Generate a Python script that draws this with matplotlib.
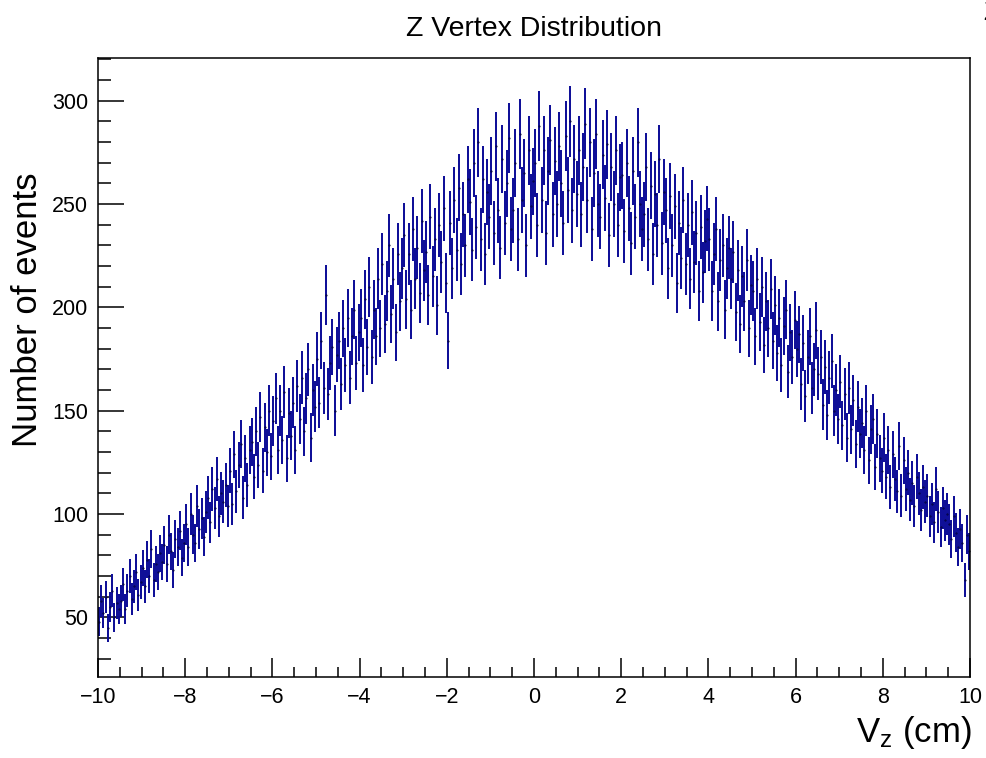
import numpy as np
import matplotlib
matplotlib.use("Agg")
import matplotlib.pyplot as plt
from matplotlib.ticker import MultipleLocator

plt.rcParams["font.family"] = ["Liberation Sans", "DejaVu Sans"]
plt.rcParams["mathtext.fontset"] = "custom"
plt.rcParams["mathtext.rm"] = "Liberation Sans"
plt.rcParams["mathtext.it"] = "Liberation Sans"

# histogram range / binning (400 bins from -10 to 10 cm)
x_min, x_max, n_bins = -10.0, 10.0, 400

# bin contents, 10 bins (0.5 cm) per row
counts = [
    48, 58, 52, 60, 45, 55, 63, 50, 57, 54,
    58, 66, 54, 63, 70, 59, 65, 72, 61, 67,
    74, 65, 78, 70, 83, 68, 76, 72, 81, 77,
    85, 76, 90, 82, 73, 88, 84, 92, 79, 86,
    95, 84, 100, 90, 86, 104, 93, 98, 89, 101,
    108, 96, 112, 103, 117, 99, 110, 106, 114, 104,
    121, 105, 129, 111, 124, 134, 108, 127, 114, 131,
    135, 118, 140, 124, 147, 121, 142, 130, 150, 128,
    145, 156, 131, 150, 136, 159, 127, 149, 138, 154,
    131, 162, 146, 166, 140, 156, 170, 137, 160, 152,
    175, 154, 184, 161, 206, 158, 173, 181, 150, 177,
    184, 163, 190, 172, 195, 166, 186, 199, 173, 188,
    195, 172, 204, 181, 210, 176, 199, 186, 214, 190,
    221, 192, 208, 230, 197, 214, 188, 226, 203, 219,
    235, 204, 226, 199, 238, 214, 229, 207, 242, 218,
    227, 206, 244, 215, 233, 201, 240, 222, 248, 212,
    184, 241, 219, 252, 228, 258, 221, 245, 230, 262,
    251, 228, 270, 239, 280, 233, 262, 226, 256, 244,
    266, 236, 278, 247, 229, 272, 241, 260, 282, 238,
    247, 270, 233, 284, 252, 265, 230, 276, 249, 261,
    270, 240, 288, 252, 276, 236, 266, 281, 245, 271,
    250, 278, 260, 241, 283, 257, 290, 247, 272, 255,
    276, 245, 268, 289, 252, 280, 238, 265, 284, 250,
    244, 274, 253, 279, 235, 268, 250, 276, 240, 263,
    264, 237, 270, 248, 231, 266, 244, 280, 250, 238,
    245, 268, 233, 259, 226, 255, 240, 272, 231, 256,
    247, 219, 254, 230, 249, 212, 241, 224, 252, 221,
    240, 214, 246, 222, 236, 208, 239, 217, 232, 243,
    233, 208, 226, 238, 203, 223, 230, 199, 219, 229,
    214, 227, 198, 218, 192, 215, 203, 223, 190, 211,
    208, 186, 214, 193, 210, 182, 203, 190, 209, 184,
    201, 178, 195, 172, 191, 199, 169, 188, 176, 194,
    180, 187, 163, 183, 157, 176, 186, 161, 170, 189,
    168, 176, 153, 171, 148, 166, 174, 150, 160, 146,
    164, 143, 158, 137, 161, 141, 155, 134, 152, 139,
    144, 131, 150, 126, 141, 146, 123, 139, 127, 121,
    137, 118, 131, 113, 129, 117, 111, 133, 109, 126,
    112, 120, 107, 115, 104, 118, 110, 102, 113, 106,
    109, 99, 105, 96, 112, 101, 94, 103, 97, 100,
    95, 88, 99, 91, 84, 93, 86, 68, 90, 82,
]

edges = np.linspace(x_min, x_max, n_bins + 1)
centers = 0.5 * (edges[:-1] + edges[1:])
counts = np.array(counts, dtype=float)
errors = np.sqrt(counts)

fig = plt.figure(figsize=(9.86, 7.58), dpi=100)
ax = fig.add_axes([98 / 986, 1 - 677 / 758, 872 / 986, 619 / 758])

ax.errorbar(
    centers, counts, yerr=errors,
    fmt=".", markersize=1.0, color="#0a0a96", mec="#000030",
    elinewidth=1.4, capsize=0,
)

ax.set_xlim(x_min, x_max)
ax.set_ylim(21.2, 320.7)

ax.xaxis.set_major_locator(MultipleLocator(2))
ax.xaxis.set_minor_locator(MultipleLocator(0.5))
ax.yaxis.set_major_locator(MultipleLocator(50))
ax.yaxis.set_minor_locator(MultipleLocator(10))
ax.tick_params(which="both", direction="in", top=False, right=False,
               width=1.1, labelsize=15.5)
ax.tick_params(axis="x", which="major", length=14, pad=7)
ax.tick_params(axis="x", which="minor", length=7)
ax.tick_params(axis="y", which="major", length=19, pad=7)
ax.tick_params(axis="y", which="minor", length=9.5)
for s in ax.spines.values():
    s.set_linewidth(1.1)

ax.set_ylabel("Number of events", fontsize=25)
ax.yaxis.set_label_coords(-0.062, 0.593)
ax.text(1.002, -0.06, r"V$_{\mathrm{z}}$ (cm)", transform=ax.transAxes,
        ha="right", va="top", fontsize=25)

fig.text(534 / 986, 1 - 29 / 758, "Z Vertex Distribution",
         ha="center", va="center", fontsize=20.5)
# clipped label at the right edge of the canvas
fig.text(983 / 986, 1 - 1 / 758, "Z", ha="left", va="top", fontsize=18)

fig.savefig("out.png", dpi=100)
